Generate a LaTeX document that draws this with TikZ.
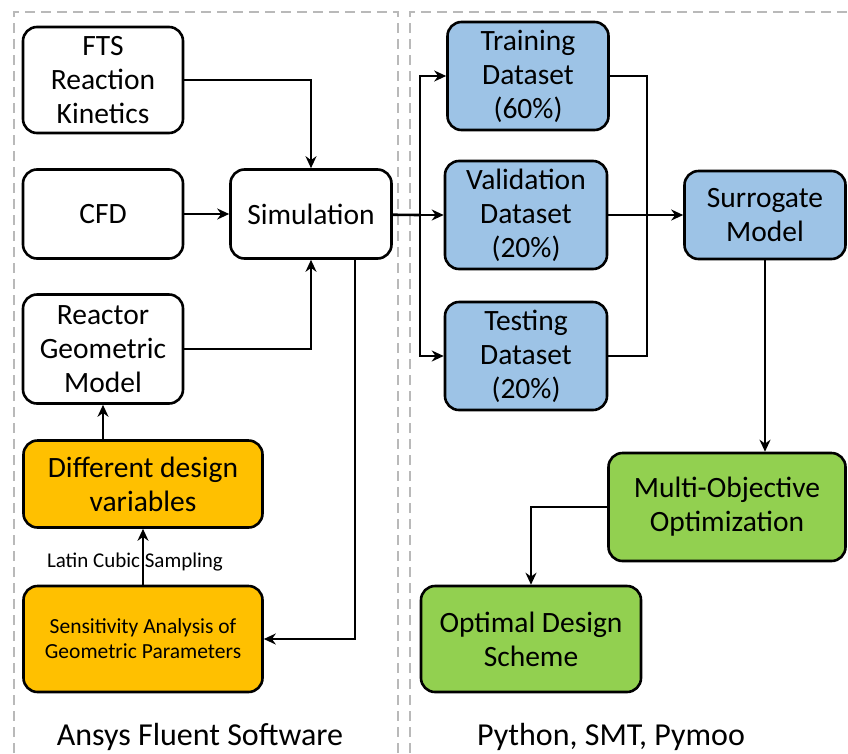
\documentclass[tikz,border=0pt]{standalone}
\usepackage{fontspec}
\setmainfont{Carlito}
\usetikzlibrary{positioning, calc, arrows.meta}

\definecolor{fluentblue}{HTML}{9DC3E6}
\definecolor{fluentorange}{HTML}{FFC000}
\definecolor{fluentgreen}{HTML}{92D050}

\begin{document}
\begin{tikzpicture}[x=1pt, y=-1pt]
\tikzset{stage/.style={
    rectangle, rounded corners=14pt, draw=black, line width=2.6pt, fill=white,
    align=center, inner sep=0pt, font=\fontsize{29.5}{34}\selectfont},
    datastage/.style={stage, fill=fluentblue},
    designstage/.style={stage, fill=fluentorange},
    optstage/.style={stage, fill=fluentgreen},
    flow/.style={line width=2.6pt, -{Stealth[length=12pt, width=11pt]}},
    joint/.style={line width=2.6pt},
    panel/.style={draw=gray!55, line width=2pt, dash pattern=on 10pt off 6pt}
}

    \useasboundingbox (0,0) rectangle (848,753);

    % dashed panels
    \draw[panel] (14,753) -- (14,12) -- (398,12) -- (398,753);
    \draw[panel] (410,753) -- (410,12) -- (848,12);

    % Ansys side
    \node[stage, minimum width=160pt, minimum height=106pt] (fts) at (103,80) {FTS\\Reaction\\Kinetics};
    \node[stage, minimum width=160pt, minimum height=89pt] (cfd) at (103,214) {CFD};
    \node[stage, minimum width=161pt, minimum height=89pt] (sim) at (311,214) {Simulation};
    \node[stage, minimum width=160pt, minimum height=109pt] (reactor) at (103,349) {Reactor\\Geometric\\Model};
    \node[designstage, minimum width=239pt, minimum height=87pt] (design) at (143,484) {Different design\\variables};
    \node[designstage, minimum width=239pt, minimum height=106pt,
          font=\fontsize{21.5}{25}\selectfont] (sens) at (143,639) {Sensitivity Analysis of\\Geometric Parameters};

    % Python side
    \node[datastage, minimum width=161pt, minimum height=108pt] (train) at (528,76) {Training\\Dataset\\(60\%)};
    \node[datastage, minimum width=162pt, minimum height=108pt] (valid) at (526,215) {Validation\\Dataset\\(20\%)};
    \node[datastage, minimum width=162pt, minimum height=108pt] (test) at (526,356) {Testing\\Dataset\\(20\%)};
    \node[datastage, minimum width=161pt, minimum height=88pt] (surr) at (765,215) {Surrogate\\Model};
    \node[optstage, minimum width=237pt, minimum height=108pt] (moo) at (727,507) {Multi-Objective\\Optimization};
    \node[optstage, minimum width=220pt, minimum height=106pt] (opt) at (531,639) {Optimal Design\\Scheme};

    \coordinate (split) at (420,215);
    \coordinate (merge) at (647,215);
    \coordinate (back) at (355,639);

    % connectors
    \draw[flow] (fts) -| (sim);
    \draw[flow] (cfd) -- (sim);
    \draw[flow] (reactor) -| (sim);
    \draw[flow] (design.north -| reactor) -- (reactor.south);
    \draw[flow] (sens) -- (design);
    \draw[flow] (sim.south -| back) -- (back) -- (sens.east);
    \node[font=\fontsize{21}{25}\selectfont] (lcs) at (135,562) {Latin Cubic Sampling};

    \draw[joint] (sim) -- (split);
    \draw[flow] (split) |- (train);
    \draw[flow] (split) -- (valid);
    \draw[flow] (split) |- (test);
    \draw[joint] (train) -| (merge);
    \draw[joint] (test) -| (merge);
    \draw[flow] (valid) -- (surr);
    \draw[flow] (surr) -- (surr |- moo.north);
    \draw[flow] (moo) -| (opt);

    % panel titles
    \node[font=\fontsize{32}{38}\selectfont] (ansys) at (200,737) {Ansys Fluent Software};
    \node[font=\fontsize{32}{38}\selectfont] (python) at (611,737) {Python, SMT, Pymoo};

\end{tikzpicture}
\end{document}
